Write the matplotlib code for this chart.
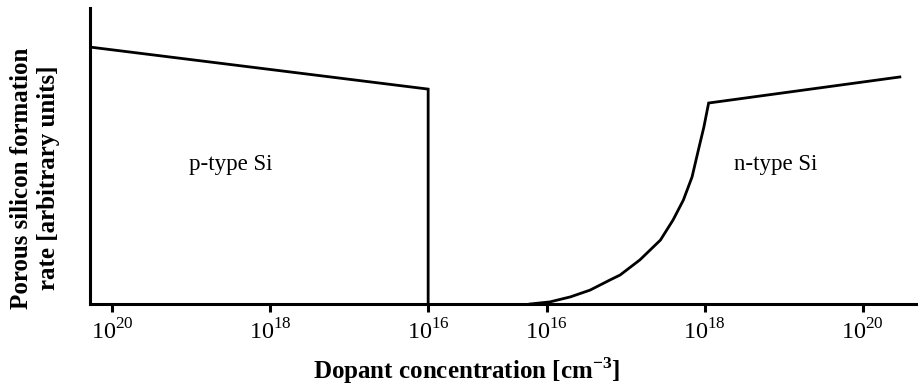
import numpy as np
import matplotlib.pyplot as plt

plt.rcParams['font.family'] = ['Liberation Serif', 'DejaVu Serif']
plt.rcParams['mathtext.fontset'] = 'custom'
plt.rcParams['mathtext.rm'] = 'Liberation Serif'
plt.rcParams['mathtext.bf'] = 'Liberation Serif:bold'

# Data (log10 of dopant concentration, rate in arbitrary units)
p_logN = [20.28, 16.0, 16.0]
p_rate = [0.868, 0.726, 0.0]

n_logN = [15.79, 16.04, 16.30, 16.55, 16.80, 16.93, 17.18, 17.44, 17.60,
          17.73, 17.84, 17.92, 17.99, 18.05, 20.47]
n_rate = [0.0, 0.007, 0.024, 0.047, 0.081, 0.098, 0.149, 0.216, 0.284,
          0.351, 0.429, 0.520, 0.598, 0.679, 0.767]

tick_exps = [20, 18, 16]
gap = 1.5  # decades of blank space between the two halves


# map concentration to a single linear axis: p-type reversed on the left, n-type on the right
def p_pos(logN):
    return 20 - np.asarray(logN)


def n_pos(logN):
    return 4 + gap + (np.asarray(logN) - 16)


fig = plt.figure(figsize=(9.18, 3.91), dpi=100)
ax = fig.add_axes([90 / 918, 87 / 391, 828 / 918, 296 / 391])

ax.plot(p_pos(p_logN), p_rate, color='black', lw=2, solid_joinstyle='miter')
ax.plot(n_pos(n_logN), n_rate, color='black', lw=2, solid_joinstyle='miter')

ticks = list(p_pos(tick_exps)) + list(n_pos(tick_exps[::-1]))
labels = [f'$10^{{{e}}}$' for e in tick_exps] + [f'$10^{{{e}}}$' for e in tick_exps[::-1]]
ax.set_xticks(ticks)
ax.set_xticklabels(labels, fontsize=17.5)
ax.set_yticks([])

ax.set_xlim(-0.28, 10.2)
ax.set_ylim(0, 1)

for s in ['top', 'right']:
    ax.spines[s].set_visible(False)
for s in ['left', 'bottom']:
    ax.spines[s].set_linewidth(2.2)
ax.tick_params(axis='x', direction='out', length=6, width=2.2, pad=5)

ax.text(p_pos(18.5), 0.47, 'p-type Si', fontsize=16.5, ha='center', va='center')
ax.text(n_pos(18.9), 0.47, 'n-type Si', fontsize=16.5, ha='center', va='center')

ax.set_xlabel(r'Dopant concentration [cm$^{\mathbf{-3}}$]', fontsize=18,
              fontweight='bold')
ax.xaxis.set_label_coords((467 - 90) / 828, -0.175)
fig.text(35 / 918, 1 - 178 / 391, 'Porous silicon formation\nrate [arbitrary units]',
         rotation=90, ha='center', va='center', fontsize=18, fontweight='bold',
         linespacing=1.2)

fig.savefig('out.png', dpi=100)
